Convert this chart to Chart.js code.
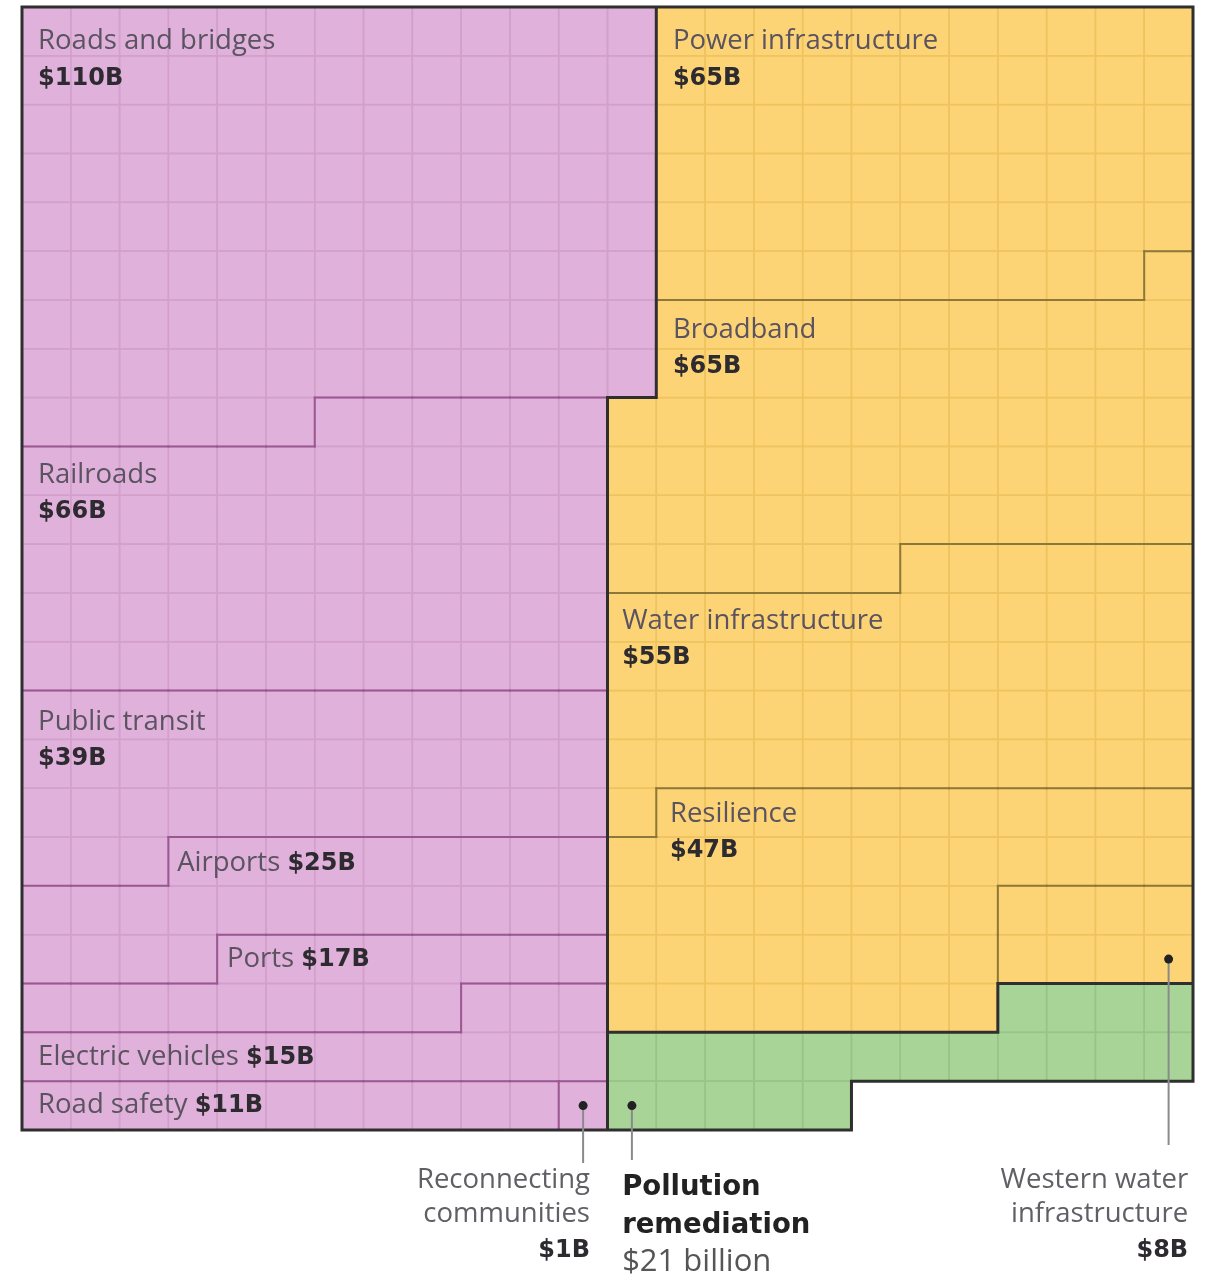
<!DOCTYPE html>
<html>
<head>
<meta charset="utf-8">
<title>Infrastructure bill spending</title>
<script src="https://cdn.jsdelivr.net/npm/chart.js@4.4.1/dist/chart.umd.min.js"></script>
<style>
  body { margin: 0; background: #fff; }
  #box { position: relative; width: 1206px; height: 1278px; }
</style>
</head>
<body>
<div id="box"><canvas id="chart"></canvas></div>
<script>
// spending blocks, $ billions (one cell = $1B)
const transportNames = ["Roads and bridges", "Railroads", "Public transit", "Airports", "Ports",
  "Electric vehicles", "Road safety", "Reconnecting communities"];
const transportValues = [110, 66, 39, 25, 17, 15, 11, 1];

const utilityNames = ["Power infrastructure", "Broadband", "Water infrastructure", "Resilience"];
const utilityValues = [65, 65, 55, 47];

const cornerNames = ["Western water infrastructure", "Pollution remediation"];
const cornerValues = [8, 21];
const cornerGroups = ["utility", "pollution"];

// waffle grid
const COLS = 24;
const ROWS = 23;
const rowLabels = [];
for (let r = 0; r < ROWS; r++) rowLabels.push(String(r));

const colors = {
  transport: { fill: "#e0b1da", grid: "#d3a0cc", edge: "#9a5791" },
  utility: { fill: "#fdd475", grid: "#efc35f", edge: "#8c7839" },
  pollution: { fill: "#a8d498", grid: "#97c587", edge: "#5d8a50" },
};

// cells each block set may use, filled row by row, left to right
const regions = [
  (r, c) => c < (r < 8 ? 13 : 12),
  (r, c) => c >= (r < 8 ? 13 : 12) && (r < 18 || (r < 21 && c < 20)),
  (r, c) => r >= 18 && c >= 12 && !(r < 21 && c < 20),
];

// label spots in grid units: [row of name line centre, start column, name and amount on one line]
const labelSpots = {
  "Roads and bridges": [0.68, 0.33, false],
  "Railroads": [9.56, 0.33, false],
  "Public transit": [14.62, 0.33, false],
  "Airports": [17.51, 3.18, true],
  "Ports": [19.48, 4.2, true],
  "Electric vehicles": [21.48, 0.33, true],
  "Road safety": [22.47, 0.33, true],
  "Power infrastructure": [0.68, 13.34, false],
  "Broadband": [6.59, 13.34, false],
  "Water infrastructure": [12.55, 12.3, false],
  "Resilience": [16.51, 13.28, false],
};

// small blocks labelled under the chart
const callouts = {
  "Reconnecting communities": { cell: [22, 11], col: 11.64, align: "right", lineEnd: 33,
    lines: ["Reconnecting", "communities"], big: false },
  "Pollution remediation": { cell: [22, 12], col: 12.3, align: "left", lineEnd: 30,
    lines: ["Pollution", "remediation"], big: true },
  "Western water infrastructure": { cell: [19, 23], col: 23.9, align: "right", lineEnd: 15,
    lines: ["Western water", "infrastructure"], big: false },
};

let blocks = [];
transportNames.forEach((n, i) => blocks.push({ name: n, value: transportValues[i], group: "transport", region: 0 }));
utilityNames.forEach((n, i) => blocks.push({ name: n, value: utilityValues[i], group: "utility", region: 1 }));
cornerNames.forEach((n, i) => blocks.push({ name: n, value: cornerValues[i], group: cornerGroups[i], region: 2 }));

// which block owns each cell (-1 = empty)
let owner = [];
for (let r = 0; r < ROWS; r++) owner.push(new Array(COLS).fill(-1));

regions.forEach((inRegion, k) => {
  const list = [];
  blocks.forEach((b, i) => { if (b.region === k) list.push(i); });
  let bi = 0;
  let left = list.length ? blocks[list[0]].value : 0;
  for (let r = 0; r < ROWS; r++) {
    for (let c = 0; c < COLS; c++) {
      if (!inRegion(r, c) || bi >= list.length) continue;
      owner[r][c] = list[bi];
      left--;
      if (left === 0) {
        bi++;
        left = bi < list.length ? blocks[list[bi]].value : 0;
      }
    }
  }
});

// one dataset per block, one floating bar per run of cells in a row
const datasets = blocks.map((b, i) => {
  const data = [];
  for (let r = 0; r < ROWS; r++) {
    let c = 0;
    while (c < COLS) {
      if (owner[r][c] === i) {
        const s = c;
        while (c < COLS && owner[r][c] === i) c++;
        data.push({ y: String(r), x: [s, c] });
      } else c++;
    }
  }
  return {
    label: b.name,
    data: data,
    backgroundColor: colors[b.group].fill,
    borderWidth: 0,
    grouped: false,
    barPercentage: 1,
    categoryPercentage: 1,
  };
});

const FONT = "'Open Sans', 'Noto Sans', sans-serif";
const BOLD = "bold 24px 'DejaVu Sans', sans-serif";

function ownerAt(r, c) {
  if (r < 0 || r >= ROWS || c < 0 || c >= COLS) return -1;
  return owner[r][c];
}

// grid lines, block outlines, labels and callouts
const decor = {
  id: "decor",
  afterDatasetsDraw(chart) {
    const ctx = chart.ctx;
    const xs = chart.scales.x;
    const ys = chart.scales.y;
    const px = (c) => xs.getPixelForValue(c);
    const py = (r) => ys.getPixelForValue(r - 0.5);

    ctx.save();

    // faint cell grid
    ctx.lineWidth = 1.5;
    for (let r = 0; r < ROWS; r++) {
      for (let c = 0; c < COLS; c++) {
        const o = owner[r][c];
        if (o < 0) continue;
        ctx.strokeStyle = colors[blocks[o].group].grid;
        ctx.strokeRect(px(c), py(r), px(c + 1) - px(c), py(r + 1) - py(r));
      }
    }

    // edges between blocks: thin inside a colour group, thick between groups
    const thin = [];
    const thick = [];
    function addEdge(a, b, seg) {
      if (a === b) return;
      if (a < 0 || b < 0 || blocks[a].group !== blocks[b].group) thick.push(seg);
      else thin.push({ seg: seg, color: colors[blocks[a].group].edge });
    }
    for (let r = 0; r < ROWS; r++) {
      for (let c = -1; c < COLS; c++) {
        addEdge(ownerAt(r, c), ownerAt(r, c + 1), [px(c + 1), py(r), px(c + 1), py(r + 1)]);
      }
    }
    for (let r = -1; r < ROWS; r++) {
      for (let c = 0; c < COLS; c++) {
        addEdge(ownerAt(r, c), ownerAt(r + 1, c), [px(c), py(r + 1), px(c + 1), py(r + 1)]);
      }
    }
    ctx.lineCap = "square";
    ctx.lineWidth = 2;
    thin.forEach((t) => {
      ctx.strokeStyle = t.color;
      ctx.beginPath();
      ctx.moveTo(t.seg[0], t.seg[1]);
      ctx.lineTo(t.seg[2], t.seg[3]);
      ctx.stroke();
    });
    ctx.lineWidth = 3;
    ctx.strokeStyle = "#2f2f2f";
    ctx.beginPath();
    thick.forEach((s) => {
      ctx.moveTo(s[0], s[1]);
      ctx.lineTo(s[2], s[3]);
    });
    ctx.stroke();

    // labels inside the grid
    ctx.textBaseline = "middle";
    ctx.textAlign = "left";
    const rowH = py(1) - py(0);
    blocks.forEach((b) => {
      const spot = labelSpots[b.name];
      if (!spot) return;
      const x = px(spot[1]);
      const y = py(spot[0]) + 1;
      const amount = "$" + b.value + "B";
      ctx.font = "27.5px " + FONT;
      ctx.fillStyle = "#5a5360";
      ctx.fillText(b.name, x, y);
      const w = ctx.measureText(b.name + " ").width;
      ctx.font = BOLD;
      ctx.fillStyle = "#2d2a30";
      if (spot[2]) ctx.fillText(amount, x + w, y + 1);
      else ctx.fillText(amount, x, y + rowH * 0.74 + 1);
    });

    // callouts under the grid
    const bottom = chart.chartArea.bottom;
    blocks.forEach((b) => {
      const co = callouts[b.name];
      if (!co) return;
      const dx = px(co.cell[1] + 0.5);
      const dy = py(co.cell[0] + 0.5);
      ctx.strokeStyle = "#8a8a8a";
      ctx.lineWidth = 2;
      ctx.lineCap = "butt";
      ctx.beginPath();
      ctx.moveTo(dx, dy);
      ctx.lineTo(dx, bottom + co.lineEnd);
      ctx.stroke();
      ctx.fillStyle = "#222";
      ctx.beginPath();
      ctx.arc(dx, dy, 4.5, 0, Math.PI * 2);
      ctx.fill();

      const tx = px(co.col);
      ctx.textAlign = co.align;
      if (co.big) {
        ctx.font = "bold 27.5px 'DejaVu Sans', sans-serif";
        ctx.fillStyle = "#222";
        ctx.fillText(co.lines[0], tx, bottom + 58);
        ctx.fillText(co.lines[1], tx, bottom + 96);
        ctx.font = "31px " + FONT;
        ctx.fillStyle = "#555";
        ctx.fillText("$" + b.value + " billion", tx, bottom + 132);
      } else {
        ctx.font = "27.5px " + FONT;
        ctx.fillStyle = "#5f5f66";
        ctx.fillText(co.lines[0], tx, bottom + 50);
        ctx.fillText(co.lines[1], tx, bottom + 84);
        ctx.font = BOLD;
        ctx.fillStyle = "#2d2a30";
        ctx.fillText("$" + b.value + "B", tx, bottom + 121);
      }
    });

    ctx.restore();
  },
};

new Chart(document.getElementById("chart"), {
  type: "bar",
  data: { labels: rowLabels, datasets: datasets },
  options: {
    indexAxis: "y",
    responsive: true,
    maintainAspectRatio: false,
    animation: false,
    layout: { padding: { left: 22, right: 13, top: 7, bottom: 148 } },
    scales: {
      x: { type: "linear", min: 0, max: COLS, display: false },
      y: { type: "category", display: false, offset: true },
    },
    plugins: {
      legend: { display: false },
      tooltip: { enabled: false },
    },
  },
  plugins: [decor],
});
</script>
</body>
</html>
